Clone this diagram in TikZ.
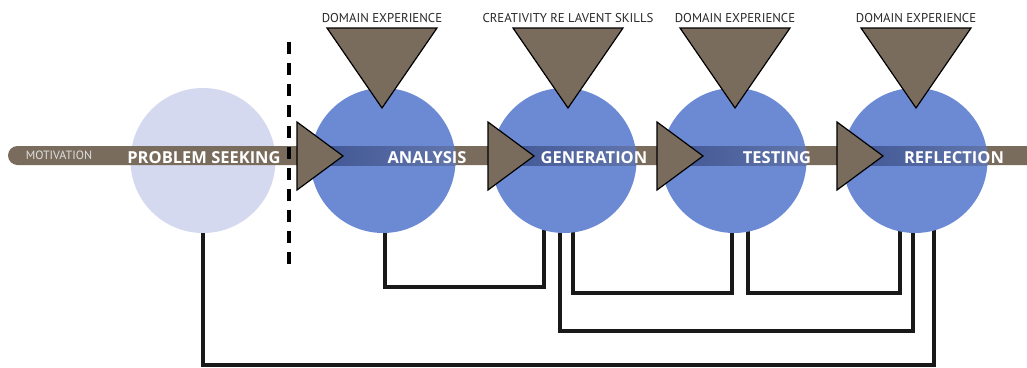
\documentclass[tikz,border=0pt]{standalone}
\usepackage{fontspec}
\setmainfont{PT Sans}
\newfontfamily\bandfont{Open Sans}
\definecolor{phaseblue}{RGB}{108,138,212}
\definecolor{seeklav}{RGB}{213,217,240}
\definecolor{bandbrown}{RGB}{122,108,93}
\definecolor{banddark}{RGB}{62,84,146}
\definecolor{bandmid}{RGB}{98,118,172}
\definecolor{labelgrey}{RGB}{40,40,40}
\usetikzlibrary{backgrounds}

\begin{document}
\begin{tikzpicture}[x=1pt, y=-1pt,
  phase/.style={circle, fill=phaseblue, minimum size=145pt, inner sep=0pt},
  head/.style={fill=bandbrown, draw=black, line width=1.2pt, line join=miter},
  bandtext/.style={anchor=base, text=white, font=\bandfont\fontsize{16.5}{17}\selectfont\bfseries},
  toplabel/.style={anchor=base, text=labelgrey, font=\fontsize{12.8}{13}\selectfont},
  link/.style={line width=3.2pt, draw=black!90}
]
  \useasboundingbox (0,0) rectangle (1027,367);
  % problem seeking circle sits under the band
  \node[phase, fill=seeklav] (seek) at (203,160.5) {};
  \fill[bandbrown, rounded corners=9.5pt] (8,146) rectangle (1060,165);
  % phase circles
  \node[phase] (ana) at (383,160.5) {};
  \node[phase] (gen) at (564,160.5) {};
  \node[phase] (tst) at (734,160.5) {};
  \node[phase] (refl) at (915,160.5) {};
  \foreach \c in {ana,gen,tst,refl}{
    \begin{scope}
      \clip (\c.center) circle[radius=72.5];
      \shade[left color=banddark, right color=bandmid] (\c.center) ++(-73,-14.5) rectangle ++(146,19);
    \end{scope}
  }
  % arrow heads along the band
  \foreach \x in {297,488,657,837}
    \filldraw[head] (\x,122) -- (\x+46,156) -- (\x,190) -- cycle;
  % inputs from above
  \foreach \x/\t [count=\i] in {382/DOMAIN EXPERIENCE, 568/CREATIVITY RE LAVENT SKILLS, 735/DOMAIN EXPERIENCE, 916/DOMAIN EXPERIENCE}{
    \filldraw[head] (\x-55,28) -- (\x+55,28) -- (\x,108) -- cycle;
    \node[toplabel] (input\i) at (\x,22) {\t};
  }
  % texts on the band
  \node[anchor=base, font=\fontsize{12}{12}\selectfont, text=black!12] (motiv) at (59,159.5) {MOTIVATION};
  \node[bandtext] (seektxt) at (204,163) {PROBLEM SEEKING};
  \node[bandtext] (anatxt) at (427,163) {ANALYSIS};
  \node[bandtext] (gentxt) at (594,163) {GENERATION};
  \node[bandtext] (tsttxt) at (777,163) {TESTING};
  \node[bandtext] (refltxt) at (954,163) {REFLECTION};
  % boundary
  \draw[line width=4pt, dash pattern=on 11.5pt off 9.5pt] (289,42) -- (289,267);
  % feedback loops
  \begin{pgfonlayer}{background}
    \draw[link] ([xshift=2pt]ana.center) -- ++(0,126.5) -| ([xshift=-20pt]gen.center);
    \draw[link] ([xshift=9pt]gen.center) -- ++(0,132.5) -| ([xshift=-2pt]tst.center);
    \draw[link] ([xshift=14pt]tst.center) -- ++(0,132.5) -| ([xshift=-15pt]refl.center);
    \draw[link] ([xshift=-4pt]gen.center) -- ++(0,170.5) -| ([xshift=-2pt]refl.center);
    \draw[link] (seek.center) -- ++(0,204.5) -| ([xshift=19pt]refl.center);
  \end{pgfonlayer}
\end{tikzpicture}
\end{document}
